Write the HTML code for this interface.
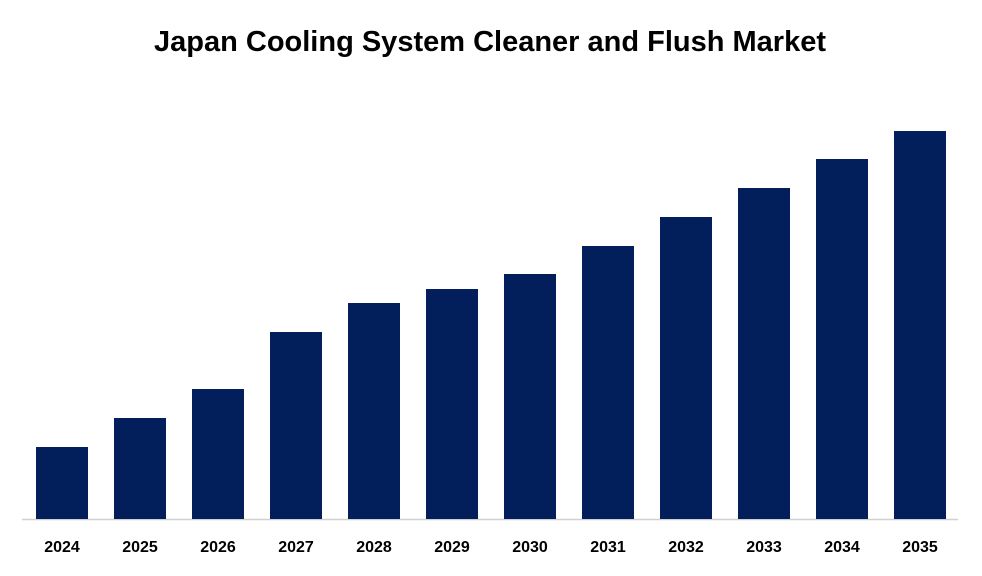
<!DOCTYPE html>
<html><head><meta charset="utf-8">
<style>
html,body{margin:0;padding:0;background:#fff;}
body{width:982px;height:571px;overflow:hidden;font-family:"Liberation Sans",sans-serif;}
</style></head>
<body>
<svg id="chart" width="982" height="571" xmlns="http://www.w3.org/2000/svg">
<text x="490" y="51" text-anchor="middle" font-family="Liberation Sans, sans-serif" font-weight="bold" font-size="29" fill="#000">Japan Cooling System Cleaner and Flush Market</text>
<line x1="22" y1="519.5" x2="958" y2="519.5" stroke="#d0d0d0" stroke-width="1.5"/>
<g id="bars"></g>
<g id="labels"></g>
</svg>
<script>
const categories = ["2024","2025","2026","2027","2028","2029","2030","2031","2032","2033","2034","2035"];
const values = [72,101,130,187,216,230,245,273,302,331,360,388];
const yMax = 400;
const baseY = 519, plotH = 400, x0 = 36, pitch = 78, barW = 52;
const ns = "http://www.w3.org/2000/svg";
function yScale(v){ return baseY - v / yMax * plotH; }
function xScale(i){ return x0 + i * pitch; }
const gb = document.getElementById('bars'), gl = document.getElementById('labels');
categories.forEach((c, i) => {
  const r = document.createElementNS(ns, 'rect');
  
  
  r.setAttribute('x', xScale(i));
  r.setAttribute('y', yScale(values[i]));
  r.setAttribute('width', barW);
  r.setAttribute('height', baseY - yScale(values[i]));
  r.setAttribute('fill', '#021f5b');
  gb.appendChild(r);
  const t = document.createElementNS(ns, 'text');
  
  
  t.setAttribute('x', xScale(i) + barW / 2);
  t.setAttribute('y', 552);
  t.setAttribute('text-anchor', 'middle');
  t.setAttribute('font-weight', 'bold');
  t.setAttribute('font-size', '16');
  t.setAttribute('fill', '#000');
  t.textContent = c;
  gl.appendChild(t);
});
</script>
</body></html>
